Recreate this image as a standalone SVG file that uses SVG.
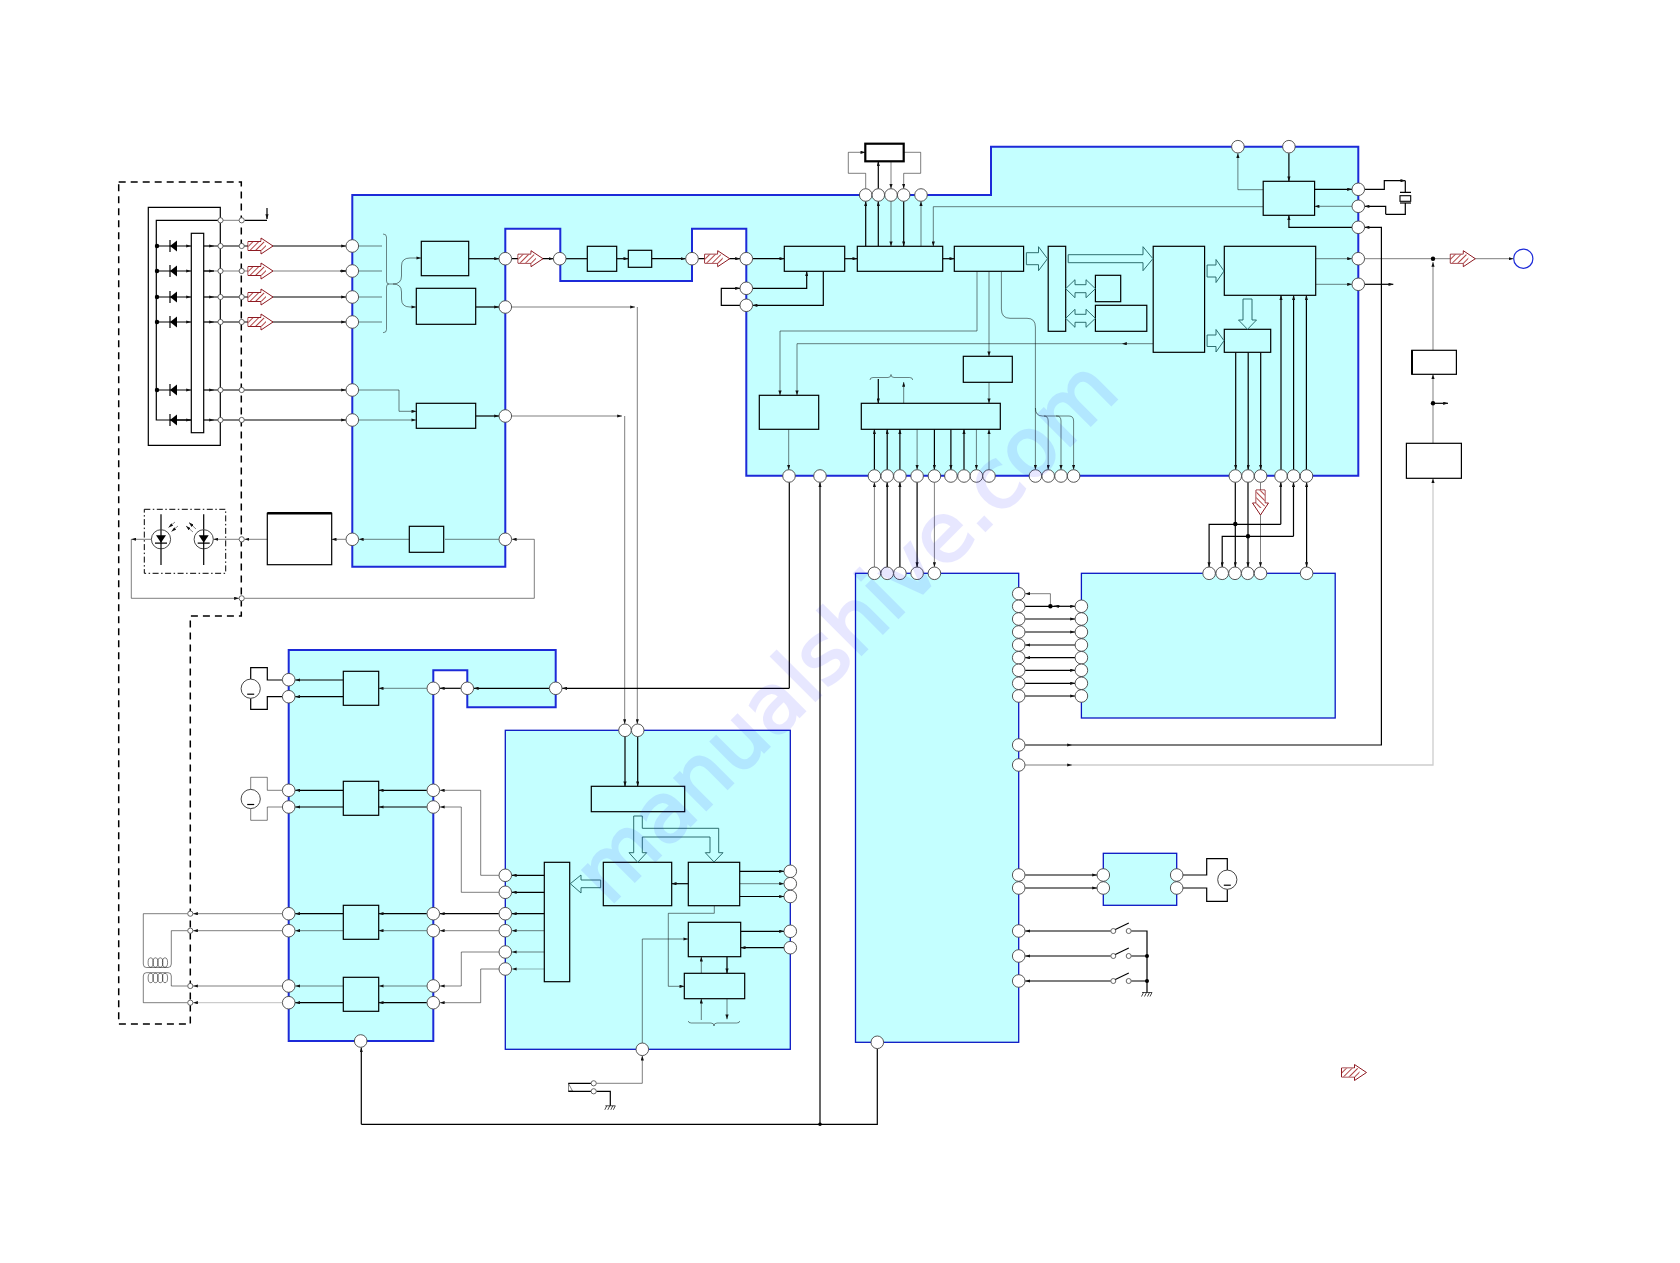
<svg xmlns="http://www.w3.org/2000/svg" width="1680" height="1263" viewBox="0 0 1680 1263">
<style>
  .ic{fill:#c4ffff;stroke:#1c2ad8;stroke-width:2}
  .ic2{fill:#c4ffff;stroke:#0a18c4;stroke-width:1.3}
  .b{fill:#c4ffff;stroke:#000;stroke-width:1.2}
  .w{fill:#fff;stroke:#000;stroke-width:1.2}
  .k{fill:none;stroke:#000;stroke-width:1.2}
  .g{fill:none;stroke:#000;stroke-opacity:.5;stroke-width:1}
  .l{fill:none;stroke:#000;stroke-opacity:.2;stroke-width:1.3}
  .t{fill:none;stroke:#000;stroke-opacity:.6;stroke-width:.8}
  .a{marker-end:url(#tip)}
  .p{fill:#fff;stroke:#444;stroke-width:.9}
  .s{fill:#fff;stroke:#555;stroke-width:.9}
  .d{fill:#000;stroke:none}
  .ba{fill:#c4ffff;stroke:#1d5f60;stroke-width:.9}
  .wm{font-family:"DejaVu Sans",sans-serif;font-size:82px;fill:#0900ff;stroke:#0900ff;stroke-width:2.5;opacity:.09}
</style>
<defs>
  <marker id="tip" viewBox="0 0 6 4" refX="6" refY="2" markerWidth="5" markerHeight="3.2" orient="auto" markerUnits="userSpaceOnUse"><path d="M0,0L6,2L0,4Z" fill="#111"/></marker>
  <pattern id="hatch" width="4" height="4" patternUnits="userSpaceOnUse" patternTransform="rotate(-45)"><rect width="4" height="4" fill="#fff"/><rect width="4" height=".9" fill="#a83030"/></pattern>
  <g id="flow"><path d="M0,-4.5H13V-8L25,0L13,8V4.5H0Z" fill="#fff" stroke="#8e1a22" stroke-width="1"/><path d="M0.5,-4H13.5V-6.5L18,-2.5V2.5L13.5,6.5V4H0.5Z" fill="url(#hatch)"/></g>
  <g id="diode"><path d="M-3.5,0L3.5,-5.5V5.5Z" fill="#000"/><path d="M-3.5,-6V6" stroke="#000" stroke-width="1.2"/></g>
  <g id="motor"><circle r="9.6" fill="#fff" stroke="#333" stroke-width=".9"/><path d="M-3.5,5.5H3.5" stroke="#000" stroke-width="1.2"/></g>
  <g id="gnd"><path d="M-5,0H5M-3.5,0L-5.5,4M-.5,0L-2.5,4M2.5,0L.5,4M5,0L3,4" fill="none" stroke="#000" stroke-width=".7"/></g>
  <g id="sw"><circle cx="0" r="2.5" class="s"/><circle cx="15.4" r="2.5" class="s"/><path d="M2,-1.5L15.5,-8" stroke="#000" stroke-width="1.1"/></g>
</defs>
<rect width="1680" height="1263" fill="#fff"/>

<!-- IC outlines -->
<g id="ic-rf"><path class="ic" d="M352.3,195H991V146.7H1358.3V475.7H746.3V228.7H692V281H560.3V228.7H505.3V566.7H352.3Z"/></g>
<g id="ic-driver"><path class="ic" d="M288.7,650H555.7V707.3H467.3V670.3H433.3V1041H288.7Z"/></g>
<g id="ic-servo"><rect class="ic2" x="505.3" y="730.3" width="285" height="319"/></g>
<g id="ic-system"><rect class="ic2" x="855.5" y="573.3" width="163.2" height="469"/></g>
<g id="ic-memory"><rect class="ic2" x="1081.4" y="573.3" width="253.8" height="144.7"/></g>
<g id="ic-loading"><rect class="ic2" x="1103.3" y="853.3" width="73.4" height="52"/></g>

<!-- Connectors -->
<g id="connectors">
  <path d="M118.7,182H241.3V616H190.3V1024H118.7Z" fill="none" stroke="#000" stroke-width="1.5" stroke-dasharray="7 5"/>
  <path class="k" d="M148.3,207.3H220.3V445.3H148.3Z"/>
  <path class="k" d="M218,220.3H156.3V420H191M244.5,220.3H267"/>
  <path class="g" d="M223,220.3H239"/>
  <path class="k a" d="M267,208V219"/>
  <path class="k a" d="M157,246H191"/><path class="k a" d="M157,271H191"/><path class="k a" d="M157,297H191"/><path class="k a" d="M157,322H191"/><path class="k a" d="M157,390H191"/><path class="k a" d="M170,420H191"/>
  <path class="k a" d="M204,246H214"/><path class="k a" d="M214,246H346"/>
  <path class="g" d="M204,271H346"/><path class="k a" d="M204,271H214"/><path class="k a" d="M340,271H346"/>
  <path class="k a" d="M204,297H214"/><path class="k a" d="M214,297H346"/>
  <path class="k a" d="M204,322H214"/><path class="k a" d="M214,322H346"/>
  <path class="k a" d="M204,390H214"/><path class="k a" d="M214,390H346"/>
  <path class="k a" d="M204,420H214"/><path class="k a" d="M214,420H346"/>
  <path class="g" d="M358.6,246H382M358.6,271H382M358.6,297H382M358.6,322H382"/>
  <path class="t" d="M383,234q3.5,0 3.5,3V281q0,3 2.5,3q-2.5,0 -2.5,3V329.7q0,3 -3.5,3"/>
  <path class="g a" d="M389,284H393Q401.5,284 401.5,276V266Q401.5,258 410,258H421.3"/>
  <path class="g a" d="M393,284Q401.5,284 401.5,292V299Q401.5,307 410,307H416.3"/>
  <path class="g a" d="M358.6,390H399V411.3H416.3"/>
  <path class="g a" d="M358.6,420H416.3"/>
  <path class="k a" d="M468.7,258.7H499"/>
  <path class="k a" d="M475.7,307H499"/>
  <path class="k a" d="M475.7,416H499"/>
  <path class="k a" d="M511.8,258.7H553.4"/>
  <path class="g a" d="M511.8,307H635"/><path class="g a" d="M637.3,307V724"/>
  <path class="g a" d="M511.8,416H622"/><path class="g a" d="M624.7,416V724"/>
  <path class="k" d="M566,258.7H587.3"/>
  <path class="k a" d="M616.7,258.7H628.3"/>
  <path class="k a" d="M651.7,258.7H685.7"/>
  <path class="k a" d="M698.3,258.7H740"/>
  <path class="k a" d="M752.6,258.7H784.3"/>
  <path class="k a" d="M844.7,258.7H857.3"/>
  <path class="k a" d="M942.7,258.7H954.3"/>
  <path class="k a" d="M752.6,288.3H806.7V271.3"/>
  <path class="k a" d="M823.3,271.3V305.3H752.6"/>
  <path class="k a" d="M740,305.3H721.3V288.3H740"/>
  <path class="k a" d="M865.7,246.3V201.3"/>
  <path class="k a" d="M878.3,246.3V201.3"/>
  <path class="g a" d="M891,201.3V246.3"/>
  <path class="k a" d="M903.7,201.3V246.3"/>
  <path class="g a" d="M921,246.3V201.3"/>
  <path class="g a" d="M1263.2,206.7H933.3V246.3"/>
  <path class="g a" d="M865.7,188.7V173.3H848.3V152.3H865.3"/>
  <path class="k a" d="M878.3,188.7V161.3"/>
  <path class="g a" d="M891,161.3V188.7"/>
  <path class="g a" d="M903.7,152.3H920.7V173.3H903.7V188.7"/>
  <path class="g a" d="M977,271.3V331H780V395.3"/>
  <path class="g a" d="M1153.2,343.7H1122"/><path class="g a" d="M1122,343.7H797V395.3"/>
  <path class="g a" d="M989,271.3V356.3"/>
  <path class="g a" d="M989,382.3V403.3"/>
  <path class="t" d="M870,380q0,-2.5 3,-2.5H888q3,0 3,-3q0,3 3,3H909.7q3,0 3,2.5"/>
  <path class="k a" d="M878.3,379V403.3"/>
  <path class="g a" d="M903.7,403.3V382"/>
  <path class="g a" d="M788.7,429.3V469.7"/>
  <path class="k a" d="M874.4,469.7V429.3"/>
  <path class="k a" d="M887.2,469.7V429.3"/>
  <path class="k a" d="M899.9,469.7V429.3"/>
  <path class="g a" d="M917.1,429.3V469.7"/>
  <path class="k a" d="M934.4,429.3V469.7"/>
  <path class="k a" d="M950.9,429.3V469.7"/>
  <path class="k a" d="M964,469.7V429.3"/>
  <path class="g a" d="M976.4,429.3V469.7"/>
  <path class="g a" d="M989,469.7V429.3"/>
  <path class="g a" d="M1001.4,271.3V309Q1001.4,318.3 1010,318.3H1027Q1035.4,318.3 1035.4,327V469.7"/>
  <path class="g a" d="M1035.4,408q0,8 7,8H1044q4.2,0 4.2,5V469.7"/>
  <path class="g a" d="M1044,416H1056.8q4.2,0 4.2,5V469.7"/>
  <path class="g a" d="M1056,416H1069q4.6,0 4.6,5V469.7"/>
  <path class="k" d="M789.3,482.3V688.3"/>
  <path class="k a" d="M789.3,688.3H562.2"/>
  <path class="k a" d="M820,1124.3V482.5"/>
  <path class="k a" d="M361.3,1124.3V1047.5"/>
  <path class="k" d="M361.3,1124.3H877.3V1048.8"/>
  <path class="g a" d="M874.4,567V482.3"/>
  <path class="k a" d="M887.2,567V482.3"/>
  <path class="k a" d="M899.9,567V482.3"/>
  <path class="k a" d="M917.1,482.3V567"/>
  <path class="g a" d="M934.4,482.3V567"/>
  <path class="k a" d="M1235.7,352.3V469.7"/>
  <path class="k a" d="M1248.2,352.3V469.7"/>
  <path class="k a" d="M1260.7,352.3V469.7"/>
  <path class="k a" d="M1281,469.7V295.3"/>
  <path class="k a" d="M1293.6,469.7V295.3"/>
  <path class="k a" d="M1306.4,469.7V295.3"/>
  <path class="k a" d="M1235.3,482.3V567"/>
  <path class="k a" d="M1248,482.3V567"/>
  <path class="g a" d="M1260.5,482.3V567"/>
  <path class="k a" d="M1280.8,524.3H1209.1V567"/>
  <path class="k a" d="M1280.8,524.3V482.3"/>
  <path class="k a" d="M1293.5,536.3H1222.2V567"/>
  <path class="k a" d="M1293.5,536.3V482.3"/>
  <path class="k a" d="M1306.6,520V482.3"/>
  <path class="k a" d="M1306.6,520V567"/>
  <path class="k" d="M1025.2,606.3H1058"/>
  <path class="k a" d="M1060,606.3H1054"/>
  <path class="k a" d="M1058,606.3H1075"/>
  <path class="g a" d="M1050.4,606.3V593.7H1025.2"/>
  <path class="k a" d="M1025.2,619H1075"/>
  <path class="k a" d="M1025.2,632H1075"/>
  <path class="k a" d="M1075,645H1025.2"/>
  <path class="k a" d="M1075,657.7H1025.2"/>
  <path class="k a" d="M1025.2,670.3H1075"/>
  <path class="k a" d="M1025.2,683.3H1075"/>
  <path class="k a" d="M1025.2,696H1075"/>
  <path class="k a" d="M1025.2,745H1072"/>
  <path class="k a" d="M1072,745H1381.4V227.3H1364.6"/>
  <path class="g a" d="M1025.2,765H1072"/>
  <path class="l a" d="M1072,765H1433V478.3"/>
  <path class="g a" d="M1315.7,258.7H1352"/>
  <path class="g a" d="M1315.7,284.3H1352"/>
  <path class="g a" d="M1364.6,258.7H1513.5"/>
  <path class="k a" d="M1364.6,284.3H1393.3"/>
  <path class="g a" d="M1433,350.3V262"/>
  <path class="g a" d="M1433,443.3V374.3"/>
  <path class="k a" d="M1433,403.3H1448"/>
  <path class="k a" d="M1288.9,153.2V181.3"/>
  <path class="g a" d="M1263.2,189.7H1237.9V153.2"/>
  <path class="k a" d="M1314.6,189.3H1352"/>
  <path class="g a" d="M1352,206.3H1314.6"/>
  <path class="k a" d="M1352,227.3H1288.9V215.3"/>
  <path class="k a" d="M1364.6,189.3H1384.3V180.7H1405.3"/>
  <path class="k" d="M1405.3,180.7V192.3M1400,192.3H1411M1405.3,203V214.3H1385.7"/>
  <path class="k a" d="M1385.7,214.3V206.3H1364.6"/>
  <path class="k a" d="M1025.2,875H1097"/>
  <path class="k a" d="M1025.2,888H1097"/>
  <path class="k" d="M1183,875H1206.7V858.7H1227.3V870M1183,888H1206.7V901.3H1227.3V889.3"/>
  <path class="k a" d="M1110.8,931H1025.2"/>
  <path class="k a" d="M1110.8,956H1025.2"/>
  <path class="k a" d="M1110.8,981H1025.2"/>
  <path class="k" d="M1131.2,931H1147V992.3M1131.2,956H1147M1131.2,981H1147"/>
  <path class="g a" d="M426.8,688.3H378.7"/>
  <path class="k a" d="M460.8,688.3H439.8"/>
  <path class="k a" d="M549.2,688.3H473.8"/>
  <path class="k a" d="M343.3,680H295.2"/>
  <path class="k a" d="M343.3,696.7H295.2"/>
  <path class="k" d="M282.2,680H267.3V667.7H250.7V679M282.2,696.7H267.3V709.3H250.7V698.3"/>
  <path class="g" d="M282.2,790.3H267.3V777.3H250.7V789.4"/>
  <path class="g" d="M282.2,807H267.3V820.3H250.7V808.6"/>
  <path class="k a" d="M343.3,790.3H295.2"/>
  <path class="k a" d="M343.3,807H295.2"/>
  <path class="k a" d="M426.8,790.3H378.7"/>
  <path class="k a" d="M426.8,807H378.7"/>
  <path class="k a" d="M343.3,913.7H295.2"/>
  <path class="g a" d="M343.3,930.7H295.2"/>
  <path class="k a" d="M426.8,913.7H378.7"/>
  <path class="g a" d="M426.8,930.7H378.7"/>
  <path class="g a" d="M343.3,986H295.2"/>
  <path class="k a" d="M343.3,1002.7H295.2"/>
  <path class="g a" d="M426.8,986H378.7"/>
  <path class="k a" d="M426.8,1002.7H378.7"/>
  <path class="g a" d="M282.2,913.7H193.1"/>
  <path class="g a" d="M282.2,930.7H193.1"/>
  <path class="g a" d="M282.2,986H193.1"/>
  <path class="l a" d="M282.2,1002.7H193.1"/>
  <path class="g" d="M187.5,913.7H143.3V964q0,3.5 3,3.5H168q3.3,0 3.3,-3.5V930.7H187.5"/>
  <path class="g" d="M187.5,986H171.3V976q0,-3.3 -3.3,-3.3H146.3q-3,0 -3,3.3V1002.7H187.5"/>
  <g class="g">
    <ellipse cx="150.7" cy="962.5" rx="2.6" ry="4.7"/><ellipse cx="155.5" cy="962.5" rx="2.6" ry="4.7"/><ellipse cx="160.3" cy="962.5" rx="2.6" ry="4.7"/><ellipse cx="165" cy="962.5" rx="2.6" ry="4.7"/>
    <ellipse cx="150.7" cy="978" rx="2.6" ry="4.7"/><ellipse cx="155.5" cy="978" rx="2.6" ry="4.7"/><ellipse cx="160.3" cy="978" rx="2.6" ry="4.7"/><ellipse cx="165" cy="978" rx="2.6" ry="4.7"/>
  </g>
  <path class="g a" d="M498.8,875.3H480.7V790.3H439.8"/>
  <path class="g a" d="M498.8,892.3H461.3V807H439.8"/>
  <path class="k a" d="M498.8,913.7H439.8"/>
  <path class="g a" d="M498.8,930.7H439.8"/>
  <path class="g a" d="M498.8,952H461.3V986H439.8"/>
  <path class="g a" d="M498.8,969H480.7V1002.7H439.8"/>
  <path class="k a" d="M544.3,875.3H511.8"/>
  <path class="k a" d="M544.3,892.3H511.8"/>
  <path class="k a" d="M544.3,913.7H511.8"/>
  <path class="g a" d="M544.3,930.7H511.8"/>
  <path class="g a" d="M544.3,952H511.8"/>
  <path class="l a" d="M544.3,969H511.8"/>
  <path class="k a" d="M625,736.6V786.3"/>
  <path class="k a" d="M637.7,736.6V786.3"/>
  <path class="k a" d="M688.3,883.7H671.7"/>
  <path class="k a" d="M739.7,871.3H784"/>
  <path class="g a" d="M739.7,883.7H784"/>
  <path class="k a" d="M739.7,896.5H784"/>
  <path class="k a" d="M740.7,931.3H784"/>
  <path class="k a" d="M784,947.7H740.7"/>
  <path class="g a" d="M714.3,905.7V913.3H668.3V986.3H684.3"/>
  <path class="g a" d="M642.3,1043V939H688.3"/>
  <path class="g a" d="M596.2,1083.3H642.3V1055.6"/>
  <path class="k" d="M596.2,1091.3H610.3V1105.7M591.2,1083.3H568.3M591.2,1091.3H568.3"/>
  <path class="t" d="M568.5,1091V1083.5L572.5,1091Z"/>
  <path class="g a" d="M701.3,973.3V956.7"/>
  <path class="k a" d="M727,956.7V973.3"/>
  <path class="g a" d="M701.3,1020V998.7"/>
  <path class="g a" d="M727,998.7V1019.3"/>
  <path class="t" d="M688.3,1021q0,2 3,2H711q3,0 3,3q0,-3 3,-3H736.7q3,0 3,-2"/>
  <!-- optical pickup drive path -->
  <path class="g" d="M445,539.3H498.8"/>
  <path class="g a" d="M409.3,539.3H358.8"/>
  <path class="g a" d="M345.8,539.3H331.7"/>
  <path class="g a" d="M267.3,539.3H244.5"/>
  <path class="g a" d="M239,539.3H213.4"/>
  <path class="g a" d="M151.3,539.3H131.3"/>
  <path class="g a" d="M131.3,539.3V598.3H238.9"/>
  <path class="g a" d="M244.5,598.3H534.3V539.3H511.8"/>
  <path class="k" d="M161,514.3V529.5M161,549V565M203.7,514.3V529.5M203.7,549V565"/>
  <path d="M144.3,509.3H225.7V573.3H144.3Z" fill="none" stroke="#000" stroke-width="1" stroke-dasharray="6 2.5 1.5 2.5"/>
</g>

<!-- Function blocks -->
<g id="sensor-amp"><rect class="w" x="191.3" y="233.3" width="12.4" height="199.4"/></g>
<g id="b-rf-amp"><rect class="b" x="421.3" y="241.3" width="47.4" height="34.4"/></g>
<g id="b-focus-amp"><rect class="b" x="416.3" y="288.3" width="59.4" height="36"/></g>
<g id="b-track-amp"><rect class="b" x="416.3" y="403.3" width="59.4" height="25"/></g>
<g id="b-apc"><rect class="b" x="409.3" y="526.3" width="34.4" height="26"/></g>
<g id="b-laser"><rect class="w" x="267.3" y="513.3" width="64.4" height="51.4"/><path d="M267.3,513.3H331.7" stroke="#000" stroke-width="2.4"/></g>
<g id="b-slicer"><rect class="b" x="587.3" y="246.3" width="29.4" height="25"/></g>
<g id="b-eq"><rect class="b" x="628.3" y="250.3" width="23.4" height="17"/></g>
<g id="b-pll"><rect class="b" x="784.3" y="246.3" width="60.4" height="25"/></g>
<g id="b-efm"><rect class="b" x="857.3" y="246.3" width="85.4" height="25"/></g>
<g id="b-dec"><rect class="b" x="954.3" y="246.3" width="69.3" height="25"/></g>
<g id="b-ram"><rect class="w" x="865.3" y="143.7" width="38.4" height="17.6" style="stroke-width:2.2"/></g>
<g id="b-subcode"><rect class="b" x="759.3" y="395.3" width="59.4" height="34"/></g>
<g id="b-sync"><rect class="b" x="963.3" y="356.3" width="49" height="26"/></g>
<g id="b-cpu-if"><rect class="b" x="861.3" y="403.3" width="139" height="26"/></g>
<g id="b-bar"><rect class="b" x="1048.2" y="246.3" width="17.5" height="85"/></g>
<g id="b-mem1"><rect class="b" x="1095.4" y="275.3" width="25.3" height="26.4"/></g>
<g id="b-mem2"><rect class="b" x="1095.4" y="305.3" width="51.4" height="26"/></g>
<g id="b-dsp"><rect class="b" x="1153.2" y="246.3" width="51.4" height="106"/></g>
<g id="b-dac"><rect class="b" x="1224.3" y="246.3" width="91.4" height="49"/></g>
<g id="b-dout"><rect class="b" x="1224.3" y="329.3" width="46.4" height="23"/></g>
<g id="b-clock"><rect class="b" x="1263.2" y="181.3" width="51.4" height="34"/></g>
<g id="b-mute"><rect class="w" x="1411.8" y="350.3" width="44.6" height="24"/><path d="M1412,350.3V374.3" stroke="#000" stroke-width="2"/></g>
<g id="b-amp"><rect class="w" x="1406.4" y="443.3" width="55" height="35"/></g>
<g id="b-drv1"><rect class="b" x="343.3" y="671.3" width="35.4" height="34"/></g>
<g id="b-drv2"><rect class="b" x="343.3" y="781.3" width="35.4" height="34"/></g>
<g id="b-drv3"><rect class="b" x="343.3" y="905.3" width="35.4" height="34"/></g>
<g id="b-drv4"><rect class="b" x="343.3" y="977.3" width="35.4" height="34"/></g>
<g id="b-servo-if"><rect class="b" x="591.3" y="786.3" width="93.4" height="25.4"/></g>
<g id="b-servo-dsp"><rect class="b" x="603.3" y="862.3" width="68.4" height="43.4"/></g>
<g id="b-servo-ctl"><rect class="b" x="688.3" y="862.3" width="51.4" height="43.4"/></g>
<g id="b-servo-out"><rect class="b" x="544.3" y="862.3" width="25.4" height="119.4"/></g>
<g id="b-osc"><rect class="b" x="688.3" y="922.3" width="52.4" height="34.4"/></g>
<g id="b-adc"><rect class="b" x="684.3" y="973.3" width="60.4" height="25.4"/></g>

<!-- Wide hollow bus arrows -->
<g id="buses">
  <path class="ba" d="M1026.4,252.7H1038.5V246.7L1047.5,258.7L1038.5,270.7V264.7H1026.4Z"/>
  <path class="ba" d="M1068.2,254.7H1143V246.7L1152.9,258.7L1143,270.7V262.7H1068.2Z"/>
  <path class="ba" d="M1065.7,288.7L1075,279.7V284.7H1086V279.7L1095.4,288.7L1086,297.7V292.7H1075V297.7Z"/>
  <path class="ba" d="M1065.7,318.3L1075,309.3V314.3H1086V309.3L1095.4,318.3L1086,327.3V322.3H1075V327.3Z"/>
  <path class="ba" d="M1207.1,265H1216V259.5L1224,271L1216,282.5V277H1207.1Z"/>
  <path class="ba" d="M1207.1,335H1216V329.5L1224,340.7L1216,352V346.5H1207.1Z"/>
  <path class="ba" d="M1243,299H1252V320H1256.5L1247.5,329.3L1238.5,320H1243Z"/>
  <path class="ba" d="M633.7,816H642.3V828.3H718.7V852.7H723L714,862L705.3,852.7H710V837H642.3V852.7H646.7L637.7,862.3L629,852.7H633.7Z"/>
  <path class="ba" d="M600.7,880H581V875L570.3,883.7L581,893V887.7H600.7Z"/>
</g>

<!-- Connector and test points -->
<g id="pins-rf">
  <circle class="p" cx="352.3" cy="246" r="6.3"/><circle class="p" cx="352.3" cy="271" r="6.3"/><circle class="p" cx="352.3" cy="297" r="6.3"/><circle class="p" cx="352.3" cy="322" r="6.3"/><circle class="p" cx="352.3" cy="390" r="6.3"/><circle class="p" cx="352.3" cy="420" r="6.3"/><circle class="p" cx="352.3" cy="539.3" r="6.3"/>
  <circle class="p" cx="505.3" cy="258.7" r="6.3"/><circle class="p" cx="505.3" cy="307" r="6.3"/><circle class="p" cx="505.3" cy="416" r="6.3"/><circle class="p" cx="505.3" cy="539.3" r="6.3"/>
  <circle class="p" cx="559.7" cy="258.7" r="6.3"/><circle class="p" cx="692" cy="258.7" r="6.3"/><circle class="p" cx="746.3" cy="258.7" r="6.3"/><circle class="p" cx="746.3" cy="288.3" r="6.3"/><circle class="p" cx="746.3" cy="305.3" r="6.3"/>
  <circle class="p" cx="865.7" cy="195" r="6.3"/><circle class="p" cx="878.3" cy="195" r="6.3"/><circle class="p" cx="891" cy="195" r="6.3"/><circle class="p" cx="903.7" cy="195" r="6.3"/><circle class="p" cx="921" cy="195" r="6.3"/>
  <circle class="p" cx="1237.9" cy="146.7" r="6.3"/><circle class="p" cx="1288.9" cy="146.7" r="6.3"/>
  <circle class="p" cx="1358.3" cy="189.3" r="6.3"/><circle class="p" cx="1358.3" cy="206.3" r="6.3"/><circle class="p" cx="1358.3" cy="227.3" r="6.3"/><circle class="p" cx="1358.3" cy="258.7" r="6.3"/><circle class="p" cx="1358.3" cy="284.3" r="6.3"/>
  <circle class="p" cx="789" cy="476" r="6.3"/><circle class="p" cx="820" cy="476" r="6.3"/>
  <circle class="p" cx="874.4" cy="476" r="6.3"/><circle class="p" cx="887.2" cy="476" r="6.3"/><circle class="p" cx="899.9" cy="476" r="6.3"/><circle class="p" cx="917.1" cy="476" r="6.3"/><circle class="p" cx="934.4" cy="476" r="6.3"/><circle class="p" cx="950.9" cy="476" r="6.3"/><circle class="p" cx="964" cy="476" r="6.3"/><circle class="p" cx="976.4" cy="476" r="6.3"/><circle class="p" cx="989" cy="476" r="6.3"/>
  <circle class="p" cx="1035.4" cy="476" r="6.3"/><circle class="p" cx="1048.2" cy="476" r="6.3"/><circle class="p" cx="1061" cy="476" r="6.3"/><circle class="p" cx="1073.6" cy="476" r="6.3"/>
  <circle class="p" cx="1235.3" cy="476" r="6.3"/><circle class="p" cx="1248" cy="476" r="6.3"/><circle class="p" cx="1260.6" cy="476" r="6.3"/><circle class="p" cx="1281" cy="476" r="6.3"/><circle class="p" cx="1293.6" cy="476" r="6.3"/><circle class="p" cx="1306.5" cy="476" r="6.3"/>
</g>
<g id="pins-driver">
  <circle class="p" cx="288.7" cy="679.7" r="6.3"/><circle class="p" cx="288.7" cy="696.7" r="6.3"/><circle class="p" cx="288.7" cy="790.3" r="6.3"/><circle class="p" cx="288.7" cy="807" r="6.3"/><circle class="p" cx="288.7" cy="913.7" r="6.3"/><circle class="p" cx="288.7" cy="930.7" r="6.3"/><circle class="p" cx="288.7" cy="986" r="6.3"/><circle class="p" cx="288.7" cy="1002.7" r="6.3"/>
  <circle class="p" cx="433.3" cy="688.3" r="6.3"/><circle class="p" cx="467.3" cy="688.3" r="6.3"/><circle class="p" cx="555.7" cy="688.3" r="6.3"/>
  <circle class="p" cx="433.3" cy="790.3" r="6.3"/><circle class="p" cx="433.3" cy="807" r="6.3"/><circle class="p" cx="433.3" cy="913.7" r="6.3"/><circle class="p" cx="433.3" cy="930.7" r="6.3"/><circle class="p" cx="433.3" cy="986" r="6.3"/><circle class="p" cx="433.3" cy="1002.7" r="6.3"/>
  <circle class="p" cx="360.7" cy="1041" r="6.3"/>
</g>
<g id="pins-servo">
  <circle class="p" cx="625" cy="730.3" r="6.3"/><circle class="p" cx="637.7" cy="730.3" r="6.3"/>
  <circle class="p" cx="505.3" cy="875.3" r="6.3"/><circle class="p" cx="505.3" cy="892.3" r="6.3"/><circle class="p" cx="505.3" cy="913.7" r="6.3"/><circle class="p" cx="505.3" cy="930.7" r="6.3"/><circle class="p" cx="505.3" cy="952" r="6.3"/><circle class="p" cx="505.3" cy="969" r="6.3"/>
  <circle class="p" cx="790.3" cy="871.3" r="6.3"/><circle class="p" cx="790.3" cy="883.7" r="6.3"/><circle class="p" cx="790.3" cy="896.5" r="6.3"/><circle class="p" cx="790.3" cy="931.3" r="6.3"/><circle class="p" cx="790.3" cy="947.7" r="6.3"/>
  <circle class="p" cx="642.3" cy="1049.3" r="6.3"/>
</g>
<g id="pins-system">
  <circle class="p" cx="874.4" cy="573.3" r="6.3"/><circle class="p" cx="887.2" cy="573.3" r="6.3"/><circle class="p" cx="899.9" cy="573.3" r="6.3"/><circle class="p" cx="917.1" cy="573.3" r="6.3"/><circle class="p" cx="934.4" cy="573.3" r="6.3"/>
  <circle class="p" cx="1018.7" cy="593.7" r="6.3"/><circle class="p" cx="1018.7" cy="606.3" r="6.3"/><circle class="p" cx="1018.7" cy="619" r="6.3"/><circle class="p" cx="1018.7" cy="632" r="6.3"/><circle class="p" cx="1018.7" cy="645" r="6.3"/><circle class="p" cx="1018.7" cy="657.7" r="6.3"/><circle class="p" cx="1018.7" cy="670.3" r="6.3"/><circle class="p" cx="1018.7" cy="683.3" r="6.3"/><circle class="p" cx="1018.7" cy="696" r="6.3"/>
  <circle class="p" cx="1018.7" cy="745" r="6.3"/><circle class="p" cx="1018.7" cy="765" r="6.3"/><circle class="p" cx="1018.7" cy="875" r="6.3"/><circle class="p" cx="1018.7" cy="888" r="6.3"/><circle class="p" cx="1018.7" cy="931" r="6.3"/><circle class="p" cx="1018.7" cy="956" r="6.3"/><circle class="p" cx="1018.7" cy="981" r="6.3"/>
  <circle class="p" cx="877.3" cy="1042.3" r="6.3"/>
</g>
<g id="pins-memory">
  <circle class="p" cx="1081.4" cy="606.3" r="6.3"/><circle class="p" cx="1081.4" cy="619" r="6.3"/><circle class="p" cx="1081.4" cy="632" r="6.3"/><circle class="p" cx="1081.4" cy="645" r="6.3"/><circle class="p" cx="1081.4" cy="657.7" r="6.3"/><circle class="p" cx="1081.4" cy="670.3" r="6.3"/><circle class="p" cx="1081.4" cy="683.3" r="6.3"/><circle class="p" cx="1081.4" cy="696" r="6.3"/>
  <circle class="p" cx="1209.1" cy="573.3" r="6.3"/><circle class="p" cx="1222.2" cy="573.3" r="6.3"/><circle class="p" cx="1235" cy="573.3" r="6.3"/><circle class="p" cx="1247.7" cy="573.3" r="6.3"/><circle class="p" cx="1260.5" cy="573.3" r="6.3"/><circle class="p" cx="1306.6" cy="573.3" r="6.3"/>
</g>
<g id="pins-loading">
  <circle class="p" cx="1103.3" cy="875" r="6.3"/><circle class="p" cx="1103.3" cy="888" r="6.3"/><circle class="p" cx="1176.7" cy="875" r="6.3"/><circle class="p" cx="1176.7" cy="888" r="6.3"/>
</g>

<!-- Small harness terminals -->
<g id="terminals">
  <circle class="s" cx="220.5" cy="220.3" r="2.6"/><circle class="s" cx="241.7" cy="220.3" r="2.6"/>
  <circle class="s" cx="220.5" cy="246" r="2.6"/><circle class="s" cx="241.7" cy="246" r="2.6"/>
  <circle class="s" cx="220.5" cy="271" r="2.6"/><circle class="s" cx="241.7" cy="271" r="2.6"/>
  <circle class="s" cx="220.5" cy="297" r="2.6"/><circle class="s" cx="241.7" cy="297" r="2.6"/>
  <circle class="s" cx="220.5" cy="322" r="2.6"/><circle class="s" cx="241.7" cy="322" r="2.6"/>
  <circle class="s" cx="220.5" cy="390" r="2.6"/><circle class="s" cx="241.7" cy="390" r="2.6"/>
  <circle class="s" cx="220.5" cy="420" r="2.6"/><circle class="s" cx="241.7" cy="420" r="2.6"/>
  <circle class="s" cx="241.7" cy="539.3" r="2.6"/><circle class="s" cx="241.7" cy="598.3" r="2.6"/>
  <circle class="s" cx="190.3" cy="913.7" r="2.6"/><circle class="s" cx="190.3" cy="930.7" r="2.6"/><circle class="s" cx="190.3" cy="986" r="2.6"/><circle class="s" cx="190.3" cy="1002.7" r="2.6"/>
  <circle class="s" cx="593.7" cy="1083.3" r="2.6"/><circle class="s" cx="593.7" cy="1091.3" r="2.6"/>
</g>

<!-- Photodiode array -->
<g id="diodes">
  <use href="#diode" x="173.5" y="246"/><use href="#diode" x="173.5" y="271"/><use href="#diode" x="173.5" y="297"/><use href="#diode" x="173.5" y="322"/><use href="#diode" x="173.5" y="390"/><use href="#diode" x="173.5" y="420"/>
  <circle class="d" cx="157" cy="246" r="2.2"/><circle class="d" cx="157" cy="271" r="2.2"/><circle class="d" cx="157" cy="297" r="2.2"/><circle class="d" cx="157" cy="322" r="2.2"/><circle class="d" cx="157" cy="390" r="2.2"/>
</g>

<!-- Laser diode and monitor diode -->
<g id="laser-unit">
  <circle cx="161" cy="539.3" r="9.6" fill="none" stroke="#333" stroke-width=".9"/>
  <circle cx="203.7" cy="539.3" r="9.6" fill="none" stroke="#333" stroke-width=".9"/>
  <path d="M156,535.3H166L161,542.7Z" fill="#000"/><path d="M198.7,535.3H208.7L203.7,542.7Z" fill="#000"/>
  <path class="k" d="M155,543.2H167M197.7,543.2H209.7M161,529.7V549M203.7,529.7V549"/>
  <path class="t a" d="M175,522L168.5,527.5"/><path class="t a" d="M178,526L171.5,531.5"/>
  <path class="t a" d="M196,529L189,522.5"/><path class="t a" d="M193,532L186,526"/>
</g>

<!-- Spindle, sled and loading motors -->
<g id="motors">
  <use href="#motor" x="250.7" y="688.7"/><use href="#motor" x="250.7" y="799"/><use href="#motor" x="1227.3" y="879.7"/>
</g>

<!-- Crystal, switches, grounds, junction dots -->
<g id="crystal"><rect x="1400" y="195.7" width="10.7" height="5.6" fill="#fff" stroke="#000" stroke-width="1.1"/><path class="k" d="M1400,203H1411"/></g>
<g id="switches"><use href="#sw" x="1113.3" y="931"/><use href="#sw" x="1113.3" y="956"/><use href="#sw" x="1113.3" y="981"/></g>
<g id="grounds"><use href="#gnd" x="1147" y="992.5"/><use href="#gnd" x="610.3" y="1105.8"/></g>
<g id="junctions">
  <circle class="d" cx="1147" cy="956" r="2"/><circle class="d" cx="1147" cy="981" r="2"/>
  <circle class="d" cx="1050.4" cy="606.3" r="2.2"/><circle class="d" cx="1235.3" cy="524" r="2.2"/><circle class="d" cx="1248" cy="536.3" r="2.2"/>
  <circle class="d" cx="1433" cy="258.7" r="2.2"/><circle class="d" cx="1433" cy="403.3" r="2.2"/><circle class="d" cx="820" cy="1124.3" r="1.8"/>
</g>
<g id="audio-out"><circle cx="1523.3" cy="258.7" r="9.6" fill="#fff" stroke="#1c2ad8" stroke-width="1.2"/></g>

<!-- Signal path flags -->
<g id="flags">
  <use href="#flow" x="248" y="246"/><use href="#flow" x="248" y="271"/><use href="#flow" x="248" y="297"/><use href="#flow" x="248" y="322"/>
  <use href="#flow" x="518" y="258.7"/><use href="#flow" x="704.7" y="258.7"/><use href="#flow" x="1450.3" y="258.7"/>
  <use href="#flow" transform="translate(1260.5 490) rotate(90)"/><use href="#flow" x="1341.5" y="1072.5"/>
</g>

<text class="wm" transform="translate(609 907) rotate(-45)">manualshive.com</text>
</svg>
